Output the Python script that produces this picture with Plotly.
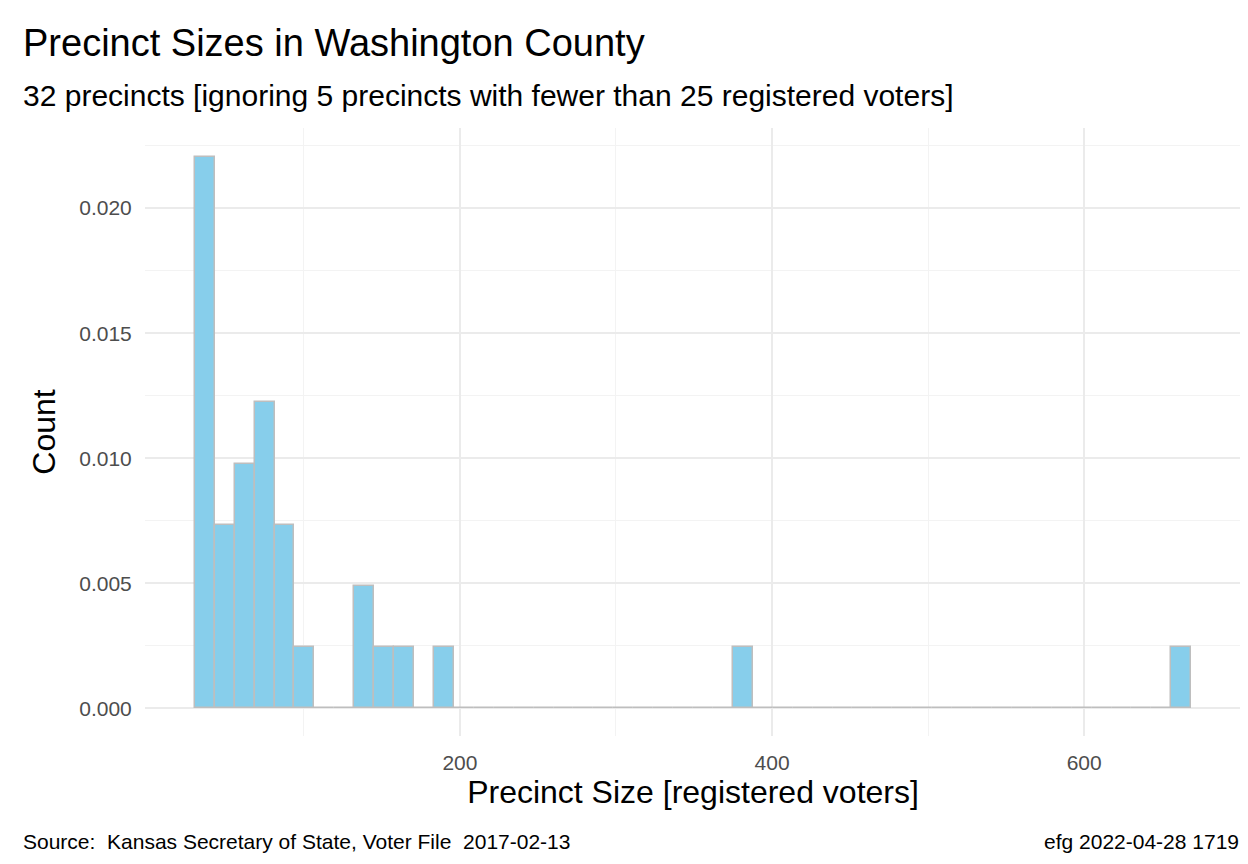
import plotly.graph_objects as go

# histogram: 50 bins starting at ~30.1 voters
bin_start = 30.1
bin_width = 12.77
counts = [9, 3, 4, 5, 3, 1, 0, 0, 2, 1, 1, 0, 1, 0, 0, 0, 0, 0, 0, 0,
          0, 0, 0, 0, 0, 0, 0, 1, 0, 0, 0, 0, 0, 0, 0, 0, 0, 0, 0, 0,
          0, 0, 0, 0, 0, 0, 0, 0, 0, 1]
n_precincts = 32

centers = [bin_start + bin_width * (i + 0.5) for i in range(len(counts))]
density = [c / (n_precincts * bin_width) for c in counts]

FONT = "Liberation Sans, Arial, sans-serif"

fig = go.Figure(go.Bar(
    x=centers, y=density, width=bin_width,
    marker=dict(color="#87CEEB", line=dict(color="#BEBEBE", width=1.5)),
    hovertemplate="%{x:.0f}: %{y:.4f}<extra></extra>",
))

def ann(text, x, y, size, xanchor="left"):
    return dict(text=text, xref="paper", yref="paper", x=x, y=y,
                xanchor=xanchor, yanchor="middle", showarrow=False,
                font=dict(size=size, family=FONT, color="black"))

fig.update_layout(
    width=1248, height=864,
    paper_bgcolor="white", plot_bgcolor="white",
    margin=dict(l=137, r=15, t=120, b=136, autoexpand=False),
    font=dict(family=FONT, color="black"),
    showlegend=False, bargap=0,
    xaxis=dict(
        range=[-1.8, 700.5], tickvals=[200, 400, 600], zeroline=False,
        showgrid=True, gridcolor="#EBEBEB", gridwidth=1.5,
        minor=dict(tickvals=[100, 300, 500, 700], showgrid=True, gridcolor="#F3F3F3", gridwidth=1),
        tickfont=dict(size=21, color="#4D4D4D"), ticks="outside", ticklen=8, tickcolor="white",
        automargin=False,
        title=dict(text="Precinct Size [registered voters]", font=dict(size=32), standoff=6),
    ),
    yaxis=dict(
        range=[-0.0011, 0.0232], tickvals=[0, 0.005, 0.010, 0.015, 0.020],
        tickformat=".3f", zeroline=False,
        showgrid=True, gridcolor="#EBEBEB", gridwidth=1.5,
        minor=dict(tickvals=[0.0025, 0.0075, 0.0125, 0.0175, 0.0225], showgrid=True,
                   gridcolor="#F3F3F3", gridwidth=1),
        tickfont=dict(size=21, color="#4D4D4D"), ticks="outside", ticklen=8, tickcolor="white",
        automargin=False,
        title=dict(text="Count", font=dict(size=32), standoff=14),
    ),
    annotations=[
        ann("Precinct Sizes in Washington County", -0.113, 1.140, 38),
        ann("32 precincts [ignoring 5 precincts with fewer than 25 registered voters]", -0.113, 1.053, 30),
        ann("Source:  Kansas Secretary of State, Voter File  2017-02-13", -0.113, -0.173, 21),
        ann("efg 2022-04-28 1719", 1.0, -0.173, 21, xanchor="right"),
    ],
)

fig.write_html("out.html")
